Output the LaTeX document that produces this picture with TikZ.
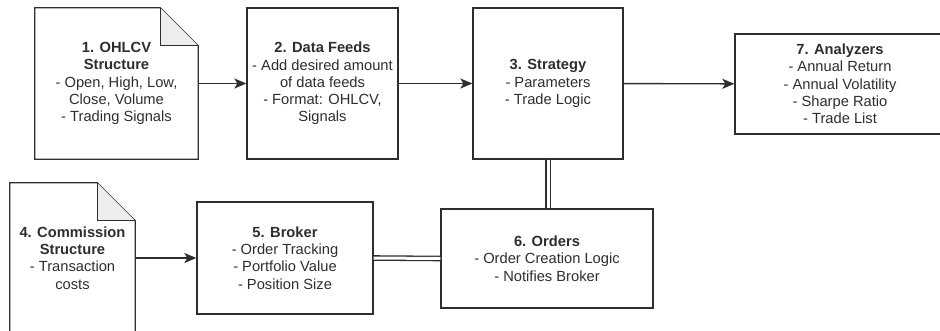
\documentclass[tikz,border=0pt]{standalone}
\usepackage{fontspec}
\setmainfont{Liberation Sans}
\usetikzlibrary{arrows.meta}
\definecolor{ink}{HTML}{2E2E2E}
\definecolor{foldgray}{HTML}{EDEDED}
\begin{document}
\begin{tikzpicture}[x=1pt,y=-1pt,
  txt/.style={align=center, font=\fontsize{14.7}{17.3}\selectfont, text=ink, inner sep=0pt},
  box/.style={txt, draw=ink, line width=1.3pt, fill=white},
  notebox/.style={txt, draw=none},
  outline/.style={draw=ink, line width=1.3pt},
  flow/.style={draw=ink, line width=1.4pt, -{Stealth[length=12pt,width=10pt,inset=3pt]}},
  link/.style={draw=ink, line width=1.3pt, double=white, double distance=3pt}]
\useasboundingbox (0,0) rectangle (940,330);
\clip (0,0) rectangle (940,330);

% top row
\node[notebox, minimum width=163pt, minimum height=151pt] (ohlcv) at (116.5,83.5)
  {\textbf{1. OHLCV}\\\textbf{Structure}\\- Open, High, Low,\\Close, Volume\\- Trading Signals};
\node[box, minimum width=151pt, minimum height=151pt] (feeds) at (322.5,83.5)
  {\textbf{2. Data Feeds}\\- Add desired amount\\of data feeds\\- Format: OHLCV,\\Signals};
\node[box, minimum width=150pt, minimum height=151pt] (strategy) at (548,83.5)
  {\textbf{3. Strategy}\\- Parameters\\- Trade Logic};
\node[box, minimum width=210pt, minimum height=100pt] (analyzers) at (840,84)
  {\textbf{7. Analyzers}\\- Annual Return\\- Annual Volatility\\- Sharpe Ratio\\- Trade List};

% bottom row
\node[notebox, minimum width=125pt, minimum height=150pt] (commission) at (72.5,258)
  {\textbf{4. Commission}\\\textbf{Structure}\\- Transaction\\costs};
\node[box, minimum width=176pt, minimum height=112pt] (broker) at (285,258)
  {\textbf{5. Broker}\\- Order Tracking\\- Portfolio Value\\- Position Size};
\node[box, minimum width=212pt, minimum height=99pt] (orders) at (547,258.5)
  {\textbf{6. Orders}\\- Order Creation Logic\\- Notifies Broker};

% note outlines with folded corner
\foreach \n in {ohlcv,commission}{
  \draw[outline] (\n.south west) -- (\n.north west) -- ([xshift=-38pt]\n.north east)
    -- ([yshift=-38pt]\n.north east) -- (\n.south east) -- cycle;
  \filldraw[outline, fill=foldgray] ([xshift=-38pt]\n.north east)
    -- ([xshift=-38pt,yshift=-38pt]\n.north east) -- ([yshift=-38pt]\n.north east);
}

% connectors
\draw[flow] (ohlcv) -- (feeds);
\draw[flow] (feeds) -- (strategy);
\draw[flow] (strategy) -- (analyzers);
\draw[flow] (commission.east) -- (broker.west);
\draw[link] (broker.east) -- (orders.west);
\draw[link] (strategy.south) -- (strategy.south |- orders.north);
\end{tikzpicture}
\end{document}
